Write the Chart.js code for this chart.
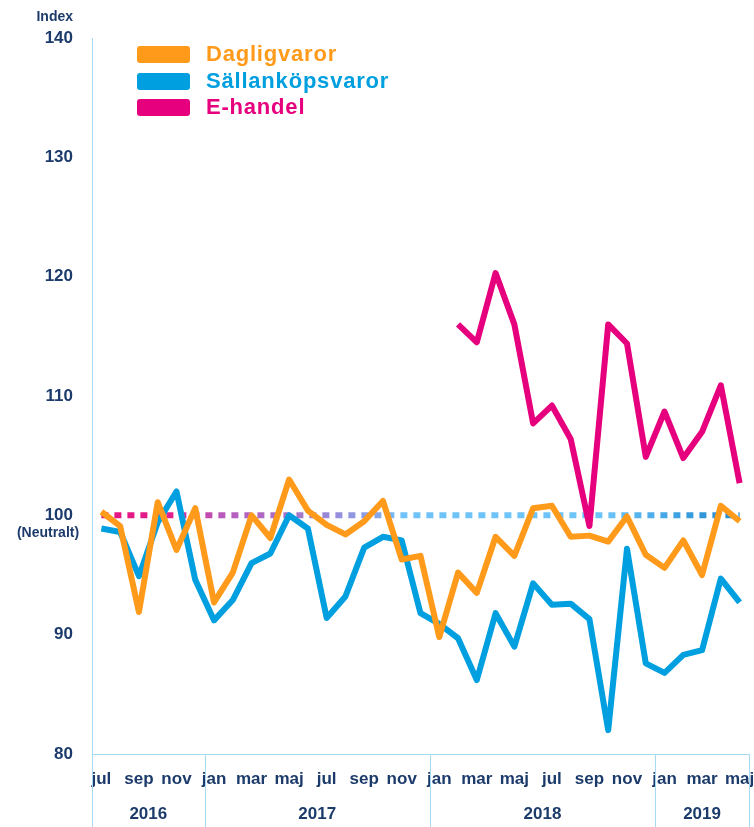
<!DOCTYPE html>
<html>
<head>
<meta charset="utf-8">
<script src="https://cdn.jsdelivr.net/npm/chart.js@4"></script>
<style>
html,body{margin:0;padding:0;background:#fff;}
#wrap{position:relative;width:754px;height:827px;overflow:hidden;}
#c{position:absolute;left:0;top:0;}
.leg{position:absolute;left:137px;height:26px;display:flex;align-items:center;font:bold 22px "Liberation Sans",Arial,sans-serif;letter-spacing:0.8px;white-space:nowrap;}
.leg .box{display:inline-block;width:53px;height:17px;border-radius:3px;margin-right:16px;}
</style>
</head>
<body>
<div id="wrap">
<canvas id="c" width="754" height="827"></canvas>
<div class="leg" style="top:41px;color:#FF9A1A"><span class="box" style="background:#FF9A1A"></span>Dagligvaror</div>
<div class="leg" style="top:68px;color:#009FDF"><span class="box" style="background:#009FDF"></span>Sällanköpsvaror</div>
<div class="leg" style="top:94px;color:#E6007E"><span class="box" style="background:#E6007E"></span>E-handel</div>
</div>
<script>
// ---- data ----
const months = ['jul','aug','sep','okt','nov','dec',
  'jan','feb','mar','apr','maj','jun','jul','aug','sep','okt','nov','dec',
  'jan','feb','mar','apr','maj','jun','jul','aug','sep','okt','nov','dec',
  'jan','feb','mar','apr','maj'];
const years = ['2016','2017','2018','2019'];
const yearStartIdx = [0, 6, 18, 30, 35]; // month index where each year starts (last = end)
const dagligvaror = [100.3, 99.1, 91.9, 101.1, 97.1, 100.6,
  92.7, 95.2, 100.0, 98.1, 103.0, 100.4, 99.2, 98.4, 99.5, 101.2, 96.3, 96.6,
  89.8, 95.2, 93.5, 98.2, 96.6, 100.6, 100.8, 98.2, 98.3, 97.8, 99.9, 96.7,
  95.6, 97.9, 95.0, 100.8, 99.5];
const sallankopsvaror = [98.9, 98.6, 94.9, 99.4, 102.0, 94.6,
  91.2, 92.9, 96.0, 96.8, 100.0, 98.9, 91.4, 93.2, 97.3, 98.2, 97.9, 91.8,
  90.9, 89.7, 86.2, 91.8, 89.0, 94.3, 92.5, 92.6, 91.3, 82.0, 97.2, 87.6,
  86.8, 88.3, 88.7, 94.7, 92.7];
const ehandel = [null, null, null, null, null, null,
  null, null, null, null, null, null, null, null, null, null, null, null,
  null, 116.0, 114.5, 120.3, 116.0, 107.7, 109.2, 106.4, 99.1, 116.0, 114.4, 104.9,
  108.7, 104.8, 107.0, 110.9, 102.7];
const neutral = [100, 100, 100, 100, 100, 100,
  100, 100, 100, 100, 100, 100, 100, 100, 100, 100, 100, 100,
  100, 100, 100, 100, 100, 100, 100, 100, 100, 100, 100, 100,
  100, 100, 100, 100, 100];
const yTicks = [80, 90, 100, 110, 120, 130, 140];

// ---- styles ----
const NAVY = '#1C3B6B';
const AXIS = '#A6DAF4';
const FONT = '"Liberation Sans", Arial, sans-serif';
const neutralStops = [
  [0, '#E8117F'], [0.12, '#E0208C'], [0.2, '#B85CBC'], [0.3, '#A872C8'],
  [0.38, '#9590DE'], [0.44, '#85A8EA'], [0.47, '#70C2F8'], [0.78, '#6CC4F8'],
  [0.9, '#3A9EE0'], [1, '#1E86C8']
];
function neutralGradient(context) {
  const chart = context.chart;
  const area = chart.chartArea;
  if (!area) return neutralStops[0][1];
  const g = chart.ctx.createLinearGradient(area.left, 0, area.right, 0);
  neutralStops.forEach(s => g.addColorStop(s[0], s[1]));
  return g;
}

const extras = {
  id: 'extras',
  afterDraw(chart) {
    const { ctx, chartArea } = chart;
    const x = chart.scales.x, y = chart.scales.y;
    const half = (x.getPixelForValue(1) - x.getPixelForValue(0)) / 2;
    const edge = i => x.getPixelForValue(i) - half;
    ctx.save();
    ctx.strokeStyle = AXIS;
    ctx.lineWidth = 1;
    yearStartIdx.forEach(b => {
      const px = Math.round(edge(b)) + 0.5;
      ctx.beginPath();
      ctx.moveTo(px, chartArea.bottom);
      ctx.lineTo(px, chart.height);
      ctx.stroke();
    });
    ctx.fillStyle = NAVY;
    ctx.textAlign = 'center';
    ctx.textBaseline = 'middle';
    ctx.font = 'bold 17px ' + FONT;
    years.forEach((yr, k) => {
      const cx = (edge(yearStartIdx[k]) + edge(yearStartIdx[k + 1])) / 2;
      ctx.fillText(yr, cx, chartArea.bottom + 60);
    });
    ctx.font = 'bold 14px ' + FONT;
    ctx.fillText('(Neutralt)', 48, y.getPixelForValue(100) + 18);
    ctx.textAlign = 'right';
    ctx.fillText('Index', 73, 17);
    ctx.restore();
  }
};

const lineBase = { pointRadius: 0, borderWidth: 6, tension: 0, borderJoinStyle: 'round', fill: false, spanGaps: false };

new Chart(document.getElementById('c'), {
  type: 'line',
  data: {
    labels: months,
    datasets: [
      Object.assign({}, lineBase, { label: 'Neutralt', data: neutral, borderColor: neutralGradient, borderDash: [7, 6], borderCapStyle: 'butt', borderJoinStyle: 'miter', order: 4 }),
      Object.assign({}, lineBase, { label: 'Sällanköpsvaror', data: sallankopsvaror, borderColor: '#009FDF', order: 3 }),
      Object.assign({}, lineBase, { label: 'Dagligvaror', data: dagligvaror, borderColor: '#FF9A1A', order: 2 }),
      Object.assign({}, lineBase, { label: 'E-handel', data: ehandel, borderColor: '#E6007E', order: 1 })
    ]
  },
  options: {
    responsive: false,
    animation: false,
    devicePixelRatio: 1,
    layout: { padding: { top: 38, right: 5, left: 0, bottom: 0 } },
    plugins: { legend: { display: false }, tooltip: { enabled: false } },
    scales: {
      x: {
        type: 'category',
        offset: true,
        grid: { display: false, drawTicks: false },
        border: { display: true, color: AXIS, width: 1 },
        ticks: {
          autoSkip: false, maxRotation: 0, minRotation: 0, padding: 15,
          color: NAVY, font: { family: FONT, size: 17, weight: 'bold' },
          callback: (v, i) => (i % 2 === 0 ? months[i] : '')
        },
        afterFit: s => { s.height = 73; s.paddingLeft = 0; s.paddingRight = 0; }
      },
      y: {
        min: 80, max: 140,
        afterBuildTicks: s => { s.ticks = yTicks.map(v => ({ value: v })); },
        grid: { display: false, drawTicks: false },
        border: { display: true, color: AXIS, width: 1 },
        ticks: {
          padding: 19, color: NAVY, font: { family: FONT, size: 17, weight: 'bold' }
        },
        afterFit: s => { s.width = 92; s.paddingTop = 0; s.paddingBottom = 0; }
      }
    }
  },
  plugins: [extras]
});
</script>
</body>
</html>
